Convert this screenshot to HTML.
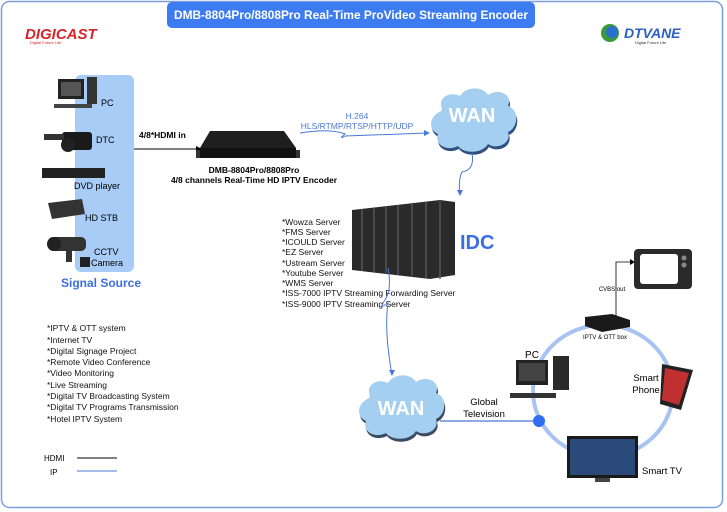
<!DOCTYPE html>
<html><head><meta charset="utf-8"><style>
html,body{margin:0;padding:0;background:#fff}
svg{display:block;font-family:"Liberation Sans",Arial,sans-serif}
</style></head><body>
<svg width="727" height="512" viewBox="0 0 727 512" xmlns="http://www.w3.org/2000/svg">
<defs>
<g id="cloud">
<path d="M15,22 C8,12 20,2 32,8 C38,-2 55,-2 60,7 C70,0 85,6 80,18 C92,22 90,40 80,44 C84,56 68,62 60,56 C54,66 36,66 30,58 C18,64 6,56 10,46 C0,42 0,28 15,22 Z"/>
</g>
</defs>
<rect x="1.5" y="1.5" width="721" height="506" rx="8" fill="#fff" stroke="#7a9ee0" stroke-width="1.5"/>
<rect x="167" y="2" width="368" height="26" rx="5" fill="#3d7cf0"/>
<text x="351" y="19" text-anchor="middle" font-size="12" font-weight="bold" fill="#fff" textLength="354" lengthAdjust="spacingAndGlyphs">DMB-8804Pro/8808Pro Real-Time ProVideo Streaming Encoder</text>
<text x="25" y="39" font-size="15" font-weight="bold" font-style="italic" fill="#d9232a">DIGICAST</text>
<text x="30" y="44" font-size="4" fill="#d9232a">Digital Future Life</text>
<circle cx="610" cy="33" r="9" fill="#3a9a3a"/><circle cx="612" cy="32" r="6" fill="#2b6fd0"/>
<text x="624" y="38" font-size="14" font-weight="bold" font-style="italic" fill="#2b5fc8">DTVANE</text>
<text x="635" y="44" font-size="4" fill="#333">Digital Future Life</text>

<rect x="75" y="75" width="59" height="197" rx="6" fill="#a8ccf6"/>
<rect x="58" y="79" width="26" height="20" fill="#222"/><rect x="61" y="82" width="20" height="14" fill="#555"/>
<rect x="87" y="77" width="10" height="27" fill="#333"/><rect x="54" y="104" width="38" height="4" fill="#444"/>
<text x="101" y="106" font-size="9">PC</text>
<rect x="62" y="132" width="30" height="18" rx="3" fill="#1a1a1a"/><rect x="44" y="134" width="20" height="6" fill="#333"/><circle cx="68" cy="145" r="7" fill="#222"/>
<text x="96" y="143" font-size="9">DTC</text>
<rect x="42" y="168" width="63" height="10" fill="#222"/>
<text x="74" y="189" font-size="9">DVD player</text>
<path d="M48,203 L82,199 L85,214 L52,219 Z" fill="#333"/>
<text x="85" y="221" font-size="9">HD STB</text>
<rect x="48" y="237" width="38" height="14" rx="5" fill="#333"/><circle cx="54" cy="244" r="7" fill="#222"/><rect x="66" y="250" width="6" height="12" fill="#333"/><rect x="80" y="257" width="10" height="10" fill="#222"/>
<text x="94" y="255" font-size="9">CCTV</text>
<text x="91" y="266" font-size="9">Camera</text>
<text x="101" y="287" text-anchor="middle" font-size="12" font-weight="bold" fill="#3a6fe0">Signal Source</text>

<text x="139" y="138" font-size="8.5" font-weight="bold">4/8*HDMI in</text>
<line x1="134" y1="149" x2="200" y2="149" stroke="#000" stroke-width="1"/>
<path d="M196,146 L202,149 L196,152 Z" fill="#000"/>
<path d="M210,131 L284,131 L296,148 L296,158 L200,158 L200,148 Z" fill="#1f1f1f"/>
<rect x="200" y="148" width="96" height="10" fill="#111"/>
<rect x="196" y="150" width="4" height="8" fill="#333"/><rect x="296" y="150" width="4" height="8" fill="#333"/>
<text x="254" y="173" text-anchor="middle" font-size="8.5" font-weight="bold">DMB-8804Pro/8808Pro</text>
<text x="254" y="183" text-anchor="middle" font-size="8.5" font-weight="bold">4/8 channels Real-Time HD IPTV Encoder</text>

<text x="357" y="119" text-anchor="middle" font-size="8.5" fill="#4a78d8">H.264</text>
<text x="357" y="129" text-anchor="middle" font-size="8.5" fill="#4a78d8">HLS/RTMP/RTSP/HTTP/UDP</text>
<path d="M300,133 Q330,128 345,134 Q338,140 345,136 L428,133" fill="none" stroke="#4a78d8" stroke-width="1"/>
<path d="M424,130 L430,133 L424,136 Z" fill="#4a78d8"/>

<g transform="translate(428,88)" fill="#305080"><use href="#cloud" transform="translate(1,3)"/></g>
<g transform="translate(428,88)" fill="#a4cff0"><use href="#cloud"/></g>
<text x="472" y="122" text-anchor="middle" font-size="20" font-weight="bold" fill="#fff">WAN</text>
<path d="M472,153 Q475,170 462,172 Q458,180 460,195" fill="none" stroke="#4a78d8" stroke-width="1"/>
<path d="M457,190 L460,196 L463,190 Z" fill="#4a78d8"/>

<path d="M352,210 L440,200 L455,202 L455,275 L430,279 L352,270 Z" fill="#2a2a2a"/>
<g stroke="#555" stroke-width="1.5">
<line x1="362" y1="209" x2="362" y2="271"/><line x1="374" y1="208" x2="374" y2="272"/><line x1="386" y1="207" x2="386" y2="273"/><line x1="398" y1="205" x2="398" y2="275"/><line x1="412" y1="204" x2="412" y2="276"/><line x1="426" y1="202" x2="426" y2="278"/><line x1="440" y1="201" x2="440" y2="279"/>
</g>
<text x="460" y="249" font-size="20" font-weight="bold" fill="#3a6fe0">IDC</text>
<g font-size="8.5" fill="#111">
<text x="282" y="225">*Wowza Server</text>
<text x="282" y="235">*FMS Server</text>
<text x="282" y="245">*ICOULD Server</text>
<text x="282" y="255">*EZ Server</text>
<text x="282" y="266">*Ustream Server</text>
<text x="282" y="276">*Youtube Server</text>
<text x="282" y="286">*WMS Server</text>
<text x="282" y="296">*ISS-7000 IPTV Streaming Forwarding Server</text>
<text x="282" y="307">*ISS-9000 IPTV Streaming Server</text>
</g>
<path d="M388,268 Q392,290 385,300 Q378,310 388,303 Q384,330 392,375" fill="none" stroke="#4a78d8" stroke-width="1"/>
<path d="M389,370 L392,376 L395,370 Z" fill="#4a78d8"/>

<g transform="translate(356,375)" fill="#3a4a60"><use href="#cloud" transform="translate(1,3)"/></g>
<g transform="translate(356,375)" fill="#a4cff0"><use href="#cloud"/></g>
<text x="401" y="415" text-anchor="middle" font-size="20" font-weight="bold" fill="#fff">WAN</text>
<line x1="440" y1="421" x2="539" y2="421" stroke="#4a78d8" stroke-width="1.2"/>
<text x="484" y="405" text-anchor="middle" font-size="9.5">Global</text>
<text x="484" y="417" text-anchor="middle" font-size="9.5">Television</text>

<ellipse cx="603" cy="391" rx="70" ry="66" fill="none" stroke="#a8c2f2" stroke-width="4"/>
<circle cx="539" cy="421" r="6" fill="#2f6ef0"/>
<path d="M585,317 L612,314 L630,320 L630,327 L602,332 L585,326 Z" fill="#1a1a1a"/>
<text x="605" y="339" text-anchor="middle" font-size="6">IPTV &amp; OTT box</text>
<polyline points="616,316 616,262 633,262" fill="none" stroke="#000" stroke-width="0.8"/>
<path d="M630,259 L635,262 L630,265 Z" fill="#000"/>
<text x="612" y="291" text-anchor="middle" font-size="6">CVBS out</text>
<rect x="634" y="249" width="58" height="40" rx="4" fill="#2a2a2a"/><rect x="640" y="254" width="38" height="30" rx="3" fill="#fff"/>
<circle cx="684" cy="258" r="2.5" fill="#888"/><circle cx="684" cy="265" r="2.5" fill="#888"/>
<text x="532" y="358" text-anchor="middle" font-size="10">PC</text>
<rect x="516" y="360" width="32" height="25" fill="#222"/><rect x="519" y="363" width="26" height="18" fill="#444"/>
<rect x="553" y="356" width="16" height="34" fill="#2a2a2a"/><rect x="510" y="393" width="46" height="5" fill="#333"/>
<text x="646" y="381" text-anchor="middle" font-size="9.5">Smart</text>
<text x="646" y="393" text-anchor="middle" font-size="9.5">Phone</text>
<path d="M662,364 L693,370 L681,410 L660,404 Z" fill="#222"/>
<path d="M665,368 L689,373 L679,405 L662,400 Z" fill="#c03030"/>
<rect x="567" y="436" width="71" height="42" fill="#1a1a1a"/><rect x="570" y="439" width="65" height="36" fill="#2a4a7a"/>
<rect x="595" y="478" width="15" height="4" fill="#444"/>
<text x="642" y="474" font-size="9.5">Smart TV</text>

<g font-size="8.5" fill="#111">
<text x="47" y="331">*IPTV &amp; OTT system</text>
<text x="47" y="343">*Internet TV</text>
<text x="47" y="354">*Digital Signage Project</text>
<text x="47" y="365">*Remote Video Conference</text>
<text x="47" y="376">*Video Monitoring</text>
<text x="47" y="388">*Live Streaming</text>
<text x="47" y="399">*Digital TV Broadcasting System</text>
<text x="47" y="410">*Digital TV Programs Transmission</text>
<text x="47" y="422">*Hotel IPTV System</text>
</g>
<text x="44" y="461" font-size="8">HDMI</text>
<line x1="77" y1="458" x2="117" y2="458" stroke="#000" stroke-width="1"/>
<text x="50" y="475" font-size="8">IP</text>
<line x1="77" y1="471" x2="117" y2="471" stroke="#4a78d8" stroke-width="1"/>
</svg>
</body></html>
